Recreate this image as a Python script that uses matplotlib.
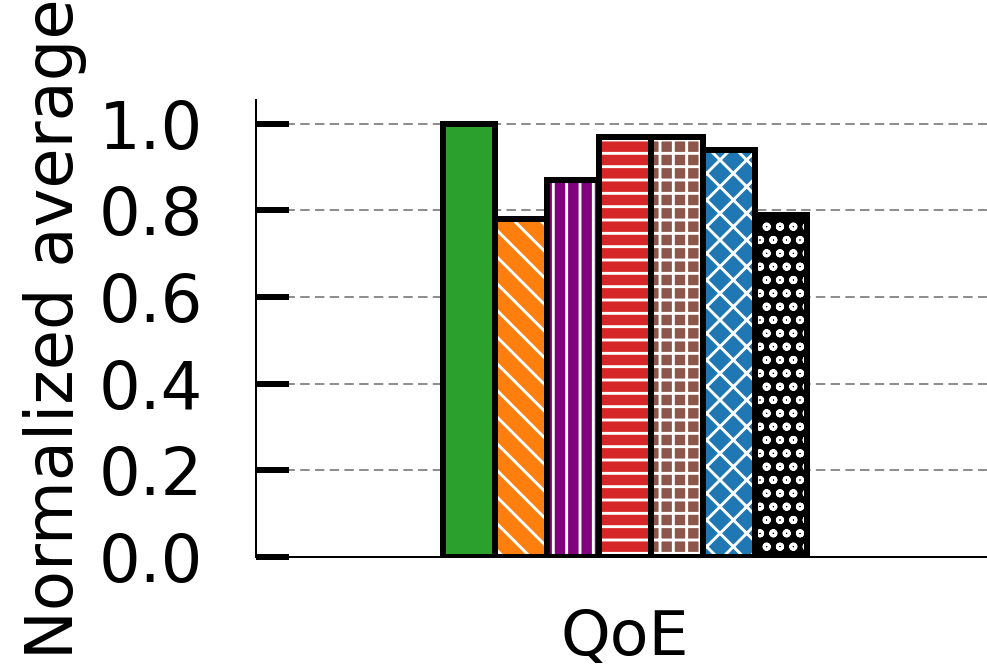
import matplotlib
matplotlib.use("Agg")
import matplotlib.pyplot as plt
import numpy as np

# ---- data ----
categories = ["QoE"]
series_values = [1.00, 0.78, 0.87, 0.97, 0.97, 0.94, 0.79]
series_colors = ["#2ca02c", "#ff7f0e", "#800080", "#d62728", "#8c564b", "#1f77b4", "#000000"]
series_hatches = ["", "\\", "|", "-", "+", "x", "o"]
yticks = [0.0, 0.2, 0.4, 0.6, 0.8, 1.0]
ytick_labels = ["0.0", "0.2", "0.4", "0.6", "0.8", "1.0"]

DPI = 80
plt.rcParams["hatch.linewidth"] = 2.6
plt.rcParams["font.family"] = ["DejaVu Sans"]

fig = plt.figure(figsize=(987 / DPI, 670 / DPI), dpi=DPI)
ax = fig.add_axes([256 / 987, 113 / 670, 738 / 987, 457 / 670])

n = len(series_values)
width = 1.0
xs = (np.arange(n) - (n - 1) / 2) * width
for x, v, c, h in zip(xs, series_values, series_colors, series_hatches):
    ax.bar(x, v, width=width, color=c, edgecolor="white", hatch=h, linewidth=0, zorder=2)
    ax.bar(x, v, width=width, fill=False, edgecolor="black", linewidth=5.4, zorder=3)

ax.set_xlim(-7.1, 7.1)
ax.set_ylim(0, 1.055)
ax.set_yticks(yticks)
ax.set_yticklabels(ytick_labels, fontsize=59)
ax.set_xticks([0])
ax.set_xticklabels(categories, fontsize=57)

ax.tick_params(axis="y", direction="in", length=29.7, width=5.4, pad=48, color="black")
ax.tick_params(axis="x", length=0, pad=46)

ax.set_axisbelow(True)
ax.yaxis.grid(True, color="#888888", linewidth=1.7, linestyle=(0, (5, 2.8)))
ax.xaxis.grid(False)

for s in ["top", "right"]:
    ax.spines[s].set_visible(False)
for s in ["left", "bottom"]:
    ax.spines[s].set_linewidth(1.8)
    ax.spines[s].set_color("black")

ax.set_ylabel("Normalized average", fontsize=59)
ax.yaxis.set_label_coords(-0.229, 0.5)

fig.savefig("out.png", dpi=DPI)
